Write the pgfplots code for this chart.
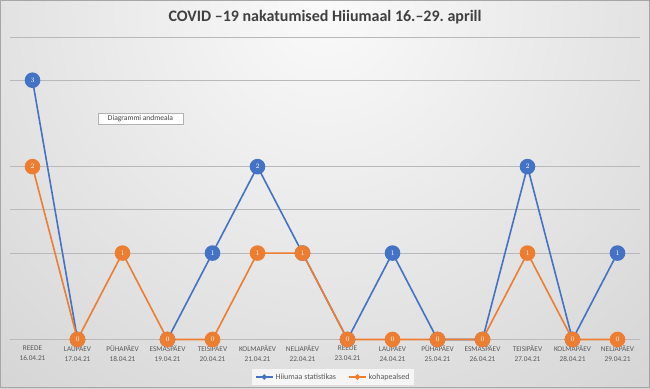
\documentclass[border=0pt]{standalone}
\usepackage{fontspec}
\setmainfont{Carlito}
\usepackage{pgfplots}
\pgfplotsset{compat=1.18}
\usetikzlibrary{shadows}
\definecolor{cblue}{HTML}{4472C4}
\definecolor{corange}{HTML}{ED7D31}
\definecolor{ctext}{HTML}{595959}
\definecolor{ctitle}{HTML}{404040}
\definecolor{bgin}{HTML}{FAFAFA}
\definecolor{bgout}{HTML}{B8B8B8}
\begin{document}
\frenchspacing
\begin{tikzpicture}
\useasboundingbox (0pt,0pt) rectangle (650pt,388pt);
\begin{scope}
\clip (0pt,0pt) rectangle (650pt,388pt);
\shade[inner color=bgin, outer color=bgout] (-575pt,-520pt) rectangle (1225pt,1280pt);
\end{scope}
\draw[gray!70, line width=1pt] (0.5pt,0.5pt) rectangle (649.5pt,387.5pt);
\node[text=ctitle, font=\fontsize{16}{18}\selectfont\bfseries] at (325pt,371pt) {COVID –19 nakatumised Hiiumaal 16.–29. aprill};
\begin{axis}[
  at={(10pt,48.5pt)}, anchor=south west,
  scale only axis, width=630pt, height=302.5pt,
  xmin=-0.5, xmax=13.5, ymin=0, ymax=3.5,
  axis line style={draw=none},
  ytick={1,1.5,2,3,3.5}, yticklabels={},
  ymajorgrids,
  major grid style={draw=gray!55, line width=0.8pt},
  extra y ticks={0}, extra y tick labels={},
  extra y tick style={grid style={draw=ctitle, line width=2.5pt}},
  major tick length=0pt,
  xtick={0,...,13},
  xticklabels={{REEDE\\16.04.21},{LAUPÄEV\\17.04.21},{PÜHAPÄEV\\18.04.21},{ESMASPÄEV\\19.04.21},{TEISIPÄEV\\20.04.21},{KOLMAPÄEV\\21.04.21},{NELJAPÄEV\\22.04.21},{REEDE\\23.04.21},{LAUPÄEV\\24.04.21},{PÜHAPÄEV\\25.04.21},{ESMASPÄEV\\26.04.21},{TEISIPÄEV\\27.04.21},{KOLMAPÄEV\\28.04.21},{NELJAPÄEV\\29.04.21}},
  xticklabel style={align=center, text=ctext, font=\fontsize{7.3}{10}\selectfont, yshift=-2.5pt},
  clip=false,
  unbounded coords=jump,
  nodes near coords,
  every node near coord/.append style={anchor=center, text=white, font=\fontsize{7}{7}\selectfont\bfseries, inner sep=0pt},
  legend style={at={(0.513,-0.124)}, anchor=center, legend columns=2, fill=gray!8, draw=none, font=\fontsize{8}{9}\selectfont, text=ctext, inner sep=2.5pt, /tikz/every even column/.append style={column sep=10pt}},
  legend image post style={mark size=1.8pt},
]
\addplot[cblue, line width=1.6pt, mark=*, mark size=7pt, mark options={fill=cblue, draw=cblue}] coordinates {
(0,3) (1,0) (2,nan) (3,0) (4,1) (5,2) (6,1) (7,0) (8,1) (9,0) (10,0) (11,2) (12,0) (13,1)};
\addlegendentry{Hiiumaa statistikas}
\addplot[corange, line width=1.6pt, mark=*, mark size=7pt, mark options={fill=corange, draw=corange}] coordinates {
(0,2) (1,0) (2,1) (3,0) (4,0) (5,1) (6,1) (7,0) (8,0) (9,0) (10,0) (11,1) (12,0) (13,0)};
\addlegendentry{kohapealsed}
\end{axis}
\node[fill=white, draw=gray!60, drop shadow={opacity=0.4, shadow xshift=1pt, shadow yshift=-1pt}, text=ctitle, font=\fontsize{7.5}{8}\selectfont, inner sep=1.5pt, minimum width=85pt, minimum height=11pt] at (140.5pt,269.5pt) {Diagrammi andmeala};
\end{tikzpicture}
\end{document}
